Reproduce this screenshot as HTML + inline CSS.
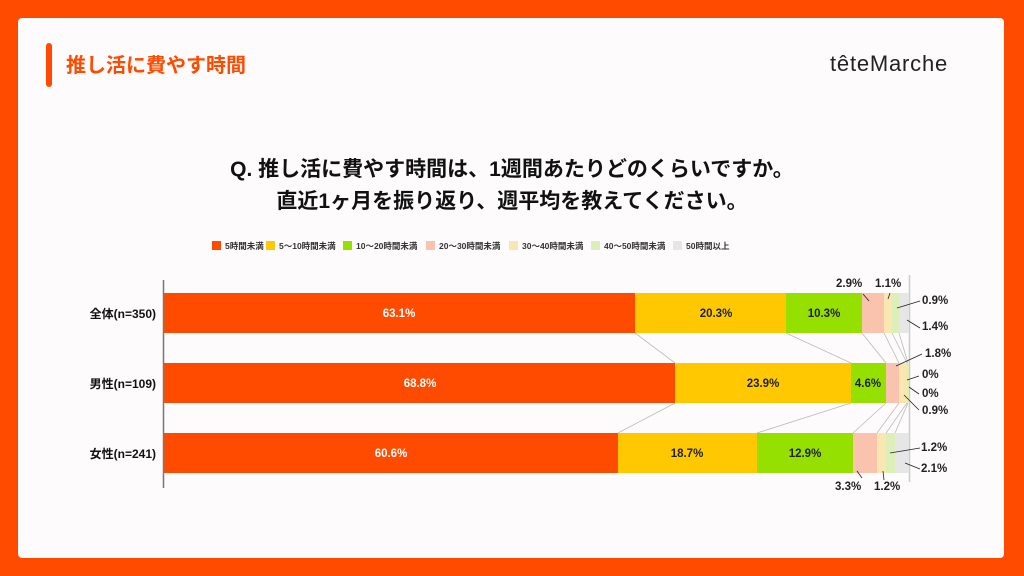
<!DOCTYPE html>
<html><head><meta charset="utf-8"><style>
html,body{margin:0;padding:0;width:1024px;height:576px;background:#FF4B00;overflow:hidden}
svg{display:block}
text{font-family:"Liberation Sans","Noto Sans CJK JP",sans-serif;font-weight:bold}
</style></head><body>
<svg width="1024" height="576" viewBox="0 0 1024 576" xmlns="http://www.w3.org/2000/svg">
<rect x="18" y="18" width="986" height="540" rx="4" fill="#FDFBFB"/>
<rect x="46" y="43" width="6" height="44" rx="3" fill="#FF4B00"/>
<text x="66" y="72" font-size="20" fill="#FF4B00">推し活に費やす時間</text>
<text x="830" y="71" font-size="22" fill="#222" letter-spacing="0.8" style="font-weight:normal">têteMarche</text>
<text x="512" y="176" font-size="21" fill="#111" text-anchor="middle">Q. 推し活に費やす時間は、1週間あたりどのくらいですか。</text>
<text x="512" y="208" font-size="21" fill="#111" text-anchor="middle">直近1ヶ月を振り返り、週平均を教えてください。</text>
<g font-size="8.5" fill="#333">
<rect x="212" y="241" width="9" height="9" fill="#FF4B00"/><text x="225" y="249">5時間未満</text>
<rect x="266" y="241" width="9" height="9" fill="#FFC800"/><text x="279" y="249">5〜10時間未満</text>
<rect x="343" y="241" width="9" height="9" fill="#96E000"/><text x="356" y="249">10〜20時間未満</text>
<rect x="426" y="241" width="9" height="9" fill="#F9C3AE"/><text x="439" y="249">20〜30時間未満</text>
<rect x="509" y="241" width="9" height="9" fill="#F9E6B0"/><text x="522" y="249">30〜40時間未満</text>
<rect x="591" y="241" width="9" height="9" fill="#DCEFB8"/><text x="604" y="249">40〜50時間未満</text>
<rect x="673" y="241" width="9" height="9" fill="#E6E6E6"/><text x="686" y="249">50時間以上</text>
</g>
<g stroke="#bbb" stroke-width="0.8">
<line x1="635" y1="333" x2="675" y2="363"/><line x1="786" y1="333" x2="851" y2="363"/><line x1="862" y1="333" x2="886" y2="363"/><line x1="884" y1="333" x2="899" y2="363"/><line x1="892" y1="333" x2="907" y2="363"/><line x1="899" y1="333" x2="908" y2="363"/>
<line x1="675" y1="403" x2="618" y2="433"/><line x1="851" y1="403" x2="757" y2="433"/><line x1="886" y1="403" x2="853" y2="433"/><line x1="899" y1="403" x2="877" y2="433"/><line x1="907" y1="403" x2="886" y2="433"/><line x1="908" y1="403" x2="895" y2="433"/>
</g>
<line x1="909.5" y1="275" x2="909.5" y2="482" stroke="#ccc" stroke-width="1.5"/>
<g>
<rect x="164" y="293" width="471" height="40" fill="#FF4B00"/><rect x="635" y="293" width="151" height="40" fill="#FFC800"/><rect x="786" y="293" width="76" height="40" fill="#96E000"/><rect x="862" y="293" width="22" height="40" fill="#F9C3AE"/><rect x="884" y="293" width="8" height="40" fill="#F9E6B0"/><rect x="892" y="293" width="7" height="40" fill="#DCEFB8"/><rect x="899" y="293" width="10" height="40" fill="#E6E6E6"/>
<rect x="164" y="363" width="511" height="40" fill="#FF4B00"/><rect x="675" y="363" width="176" height="40" fill="#FFC800"/><rect x="851" y="363" width="35" height="40" fill="#96E000"/><rect x="886" y="363" width="13" height="40" fill="#F9C3AE"/><rect x="899" y="363" width="8" height="40" fill="#F9E6B0"/><rect x="907" y="363" width="2" height="40" fill="#DCEFB8"/>
<rect x="164" y="433" width="454" height="40" fill="#FF4B00"/><rect x="618" y="433" width="139" height="40" fill="#FFC800"/><rect x="757" y="433" width="96" height="40" fill="#96E000"/><rect x="853" y="433" width="24" height="40" fill="#F9C3AE"/><rect x="877" y="433" width="9" height="40" fill="#F9E6B0"/><rect x="886" y="433" width="9" height="40" fill="#DCEFB8"/><rect x="895" y="433" width="14" height="40" fill="#E6E6E6"/>
</g>
<line x1="163.5" y1="280" x2="163.5" y2="488" stroke="#777" stroke-width="1.5"/>
<g font-size="12" fill="#111" text-anchor="end">
<text x="156" y="318">全体(n=350)</text><text x="156" y="388">男性(n=109)</text><text x="156" y="458">女性(n=241)</text>
</g>
<g font-size="11.5" text-anchor="middle">
<text x="399" y="317" fill="#fff">63.1%</text><text x="716" y="317" fill="#222">20.3%</text><text x="824" y="317" fill="#222">10.3%</text>
<text x="420" y="387" fill="#fff">68.8%</text><text x="763" y="387" fill="#222">23.9%</text><text x="868" y="387" fill="#222">4.6%</text>
<text x="391" y="457" fill="#fff">60.6%</text><text x="687" y="457" fill="#222">18.7%</text><text x="805" y="457" fill="#222">12.9%</text>
</g>
<g font-size="11.5" fill="#222">
<text x="836" y="287">2.9%</text><text x="875" y="287">1.1%</text>
<text x="922" y="304">0.9%</text><text x="922" y="330">1.4%</text>
<text x="925" y="357">1.8%</text><text x="922" y="378">0%</text><text x="922" y="397">0%</text><text x="922" y="414">0.9%</text>
<text x="921" y="451">1.2%</text><text x="921" y="472">2.1%</text>
<text x="835" y="490">3.3%</text><text x="874" y="490">1.2%</text>
</g>
<g stroke="#222" stroke-width="0.8">
<line x1="863" y1="294" x2="869" y2="301"/><line x1="890" y1="293" x2="888" y2="299"/>
<line x1="920" y1="301" x2="897" y2="308"/><line x1="920" y1="328" x2="907" y2="320"/>
<line x1="922" y1="354" x2="896" y2="366"/><line x1="919" y1="376" x2="907" y2="380"/><line x1="919" y1="394" x2="909" y2="387"/><line x1="919" y1="410" x2="904" y2="395"/>
<line x1="920" y1="448" x2="890" y2="453"/><line x1="920" y1="469" x2="905" y2="463"/>
<line x1="862" y1="478" x2="857" y2="471"/><line x1="884" y1="480" x2="883" y2="471"/>
</g>
</svg>
</body></html>
